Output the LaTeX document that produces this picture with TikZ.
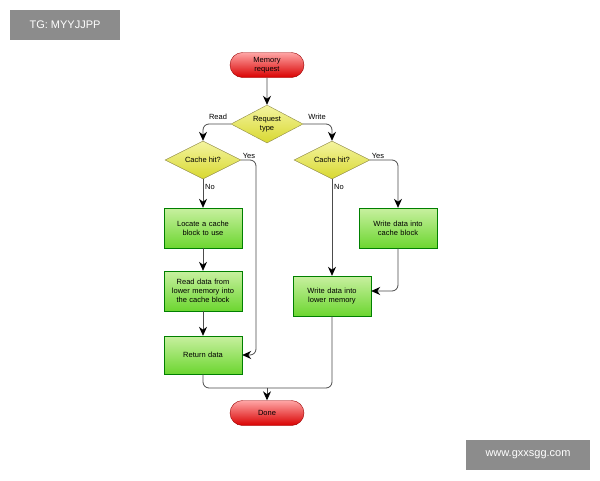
\documentclass[tikz,border=0pt]{standalone}
\usepackage{fontspec}
\setmainfont{Liberation Sans}
\usetikzlibrary{shapes.geometric,shapes.misc,arrows.meta}
\definecolor{gtop}{HTML}{C8F0A0}
\definecolor{gbot}{HTML}{6CD630}
\definecolor{ytop}{HTML}{F4F4A0}
\definecolor{ybot}{HTML}{D8D830}
\begin{document}
\begin{tikzpicture}[x=1pt,y=-1pt,
  term/.style={rounded rectangle,draw=red!60!black,top color=red!35,bottom color=red!85!black,minimum width=76pt,minimum height=25pt,font=\fontsize{7.5}{8.5}\selectfont,align=center,inner sep=1pt},
  dec/.style={diamond,aspect=2,draw=yellow!50!black,top color=ytop,bottom color=ybot,minimum width=76pt,minimum height=38pt,font=\fontsize{7.5}{8.5}\selectfont,align=center,inner sep=0pt},
  proc/.style={rectangle,draw=green!50!black,top color=gtop,bottom color=gbot,minimum width=78pt,minimum height=40pt,text width=72pt,font=\fontsize{7.5}{9}\selectfont,align=center,inner sep=1pt},
  ln/.style={draw=black!70,line width=0.8pt,rounded corners=6pt,-{Stealth[length=9pt,width=8pt,black]}},
  ln0/.style={draw=black!70,line width=0.8pt,rounded corners=6pt},
  lab/.style={font=\fontsize{7.5}{8.5}\selectfont},
  wm/.style={fill=black!45,text=white,font=\fontsize{11}{12}\selectfont}]
\useasboundingbox (0,0) rectangle (600,480);
\fill[white] (0,0) rectangle (600,480);
\node[wm,minimum width=110pt,minimum height=30pt] (w1) at (65,25) {TG: MYYJJPP};
\node[wm,minimum width=124pt,minimum height=30pt] (w2) at (528,455) {www.gxxsgg.com};
\node[term] (mem) at (267,65) {Memory\\request};
\node[dec,minimum width=72pt] (rt) at (267,124) {Request\\type};
\node[dec] (ch1) at (203,160) {Cache hit?};
\node[dec] (ch2) at (332,160) {Cache hit?};
\node[proc] (loc) at (203,228) {Locate a cache block to use};
\node[proc] (rd) at (203,291) {Read data from lower memory into the cache block};
\node[proc,minimum height=38pt] (ret) at (203,355) {Return data};
\node[proc] (wc) at (398,228) {Write data into cache block};
\node[proc] (wl) at (332,296) {Write data into lower memory};
\node[term] (done) at (267,413) {Done};
\coordinate (j) at (267,388);
\draw[ln] (mem) -- (rt);
\draw[ln] (rt.west) -| (ch1.north);
\draw[ln] (rt.east) -| (ch2.north);
\node[lab] (lr) at (218,117) {Read};
\node[lab] (lw) at (317,117) {Write};
\draw[ln] (ch1.south) -- (loc.north);
\node[lab] (n1) at (210,187) {No};
\draw[ln] (ch1.east) -- (256,160) -- (256,355) -- (ret.east);
\node[lab] (y1) at (249,156) {Yes};
\draw[ln] (loc) -- (rd);
\draw[ln] (rd) -- (ret);
\draw[ln] (ch2.south) -- (wl.north);
\node[lab] (n2) at (339,187) {No};
\draw[ln] (ch2.east) -| (wc.north);
\node[lab] (y2) at (378,156) {Yes};
\draw[ln] (wc.south) |- (wl.east|-0,291);
\draw[ln0] (ret.south) |- (j);
\draw[ln0] (wl.south) |- (j);
\draw[ln] (j) -- (done);
\end{tikzpicture}
\end{document}
